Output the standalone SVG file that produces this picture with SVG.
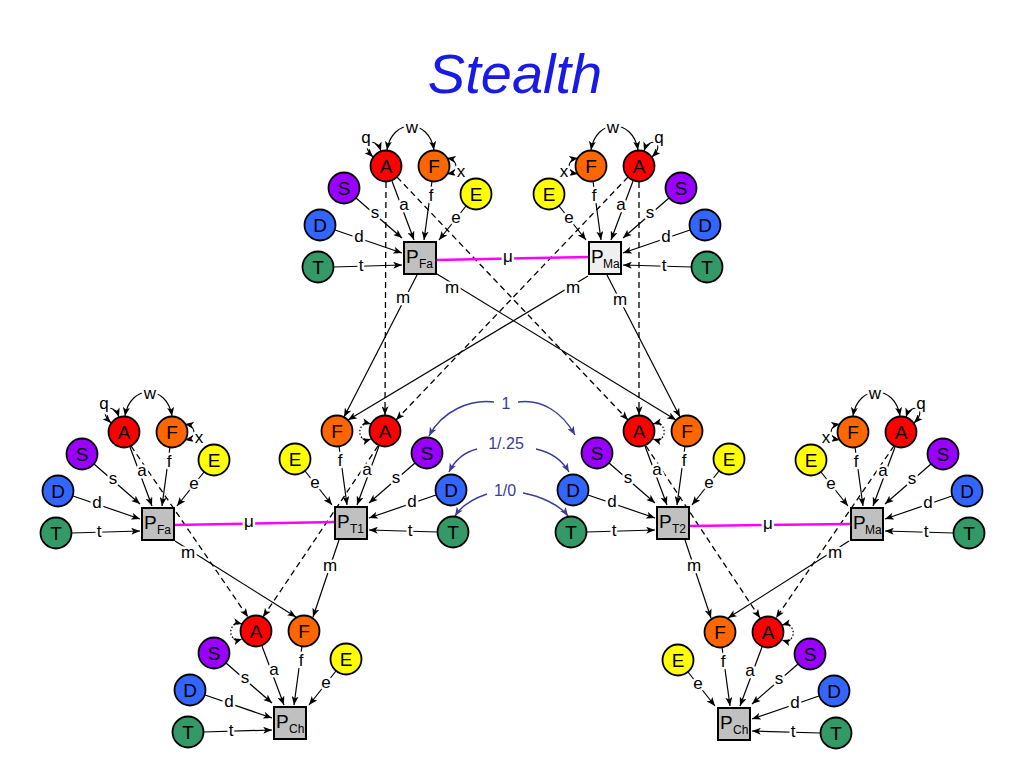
<svg xmlns="http://www.w3.org/2000/svg" width="1024" height="768" viewBox="0 0 1024 768">
<style>
.ed{stroke:#000;stroke-width:1.2;fill:none;marker-end:url(#ah)}
.da{stroke:#000;stroke-width:1.3;fill:none;stroke-dasharray:6 4;marker-end:url(#ah)}
.lp{stroke:#000;stroke-width:1.2;fill:none;marker-start:url(#ah);marker-end:url(#ah)}
.dl{stroke:#000;stroke-width:1.3;fill:none;stroke-dasharray:1.5 2;marker-start:url(#ah);marker-end:url(#ah)}
.mu{stroke:#ff00ff;stroke-width:2.5;fill:none}
.bl{stroke:#3b3b9e;stroke-width:1.4;fill:none;marker-end:url(#ahb)}
.lb{font-family:"Liberation Sans",Arial,sans-serif;font-size:17px;text-anchor:middle;fill:#000;paint-order:stroke;stroke:#fff;stroke-width:5px;stroke-linejoin:round}
.lbb{font-family:"Liberation Sans",Arial,sans-serif;font-size:16px;text-anchor:middle;fill:#3b3b9e;paint-order:stroke;stroke:#fff;stroke-width:5px;stroke-linejoin:round}
.nd{stroke:#000;stroke-width:1.8}
.nt{font-family:"Liberation Sans",Arial,sans-serif;font-size:19px;text-anchor:middle;fill:#000}
.box{fill:#c0c0c0;stroke:#000;stroke-width:2}
.boxl{fill:#efefef;stroke:#000;stroke-width:2}
.pt{font-family:"Liberation Sans",Arial,sans-serif;font-size:19px;fill:#000}
.ps{font-family:"Liberation Sans",Arial,sans-serif;font-size:12px;fill:#000}
.cA{fill:#ff0000}.cF{fill:#ff6600}.cE{fill:#ffff00}.cS{fill:#9900ff}.cD{fill:#3366ff}.cT{fill:#339966}
</style>
<defs>
<marker id="ah" viewBox="0 0 10 8" refX="10" refY="4" markerWidth="9" markerHeight="7" markerUnits="userSpaceOnUse" orient="auto-start-reverse"><path d="M0,0 L10,4 L0,8 L2.5,4 z" fill="#000"/></marker>
<marker id="ahb" viewBox="0 0 10 8" refX="10" refY="4" markerWidth="9" markerHeight="7" markerUnits="userSpaceOnUse" orient="auto-start-reverse"><path d="M0,0 L10,4 L0,8 L2.5,4 z" fill="#3b3b9e"/></marker>
</defs>
<rect width="1024" height="768" fill="#fff"/>
<text x="515" y="93" font-family="'Liberation Sans',Arial,sans-serif" font-size="56" font-style="italic" fill="#1a1ae6" text-anchor="middle">Stealth</text>

<g id="connectors">
  <!-- inter-cluster lines -->
  <line class="da" x1="386" y1="182" x2="385" y2="415"/>
  <line class="da" x1="639" y1="182" x2="639" y2="415"/>
  <line class="da" x1="397" y1="177" x2="628" y2="420"/>
  <line class="da" x1="628" y1="177" x2="396" y2="420"/>
  <line class="ed" x1="417" y1="275" x2="344" y2="417"/>
  <line class="ed" x1="437" y1="274" x2="676" y2="420"/>
  <line class="ed" x1="588" y1="276" x2="348" y2="420"/>
  <line class="ed" x1="607" y1="275" x2="680" y2="417"/>
  <line class="ed" x1="175" y1="541" x2="296" y2="617"/>
  <line class="ed" x1="339" y1="540" x2="313" y2="617"/>
  <line class="da" x1="131" y1="446" x2="248" y2="617"/>
  <line class="da" x1="378" y1="446" x2="263" y2="617"/>
  <line class="ed" x1="685" y1="540" x2="711" y2="618"/>
  <line class="ed" x1="849" y1="541" x2="728" y2="618"/>
  <line class="da" x1="646" y1="446" x2="760" y2="618"/>
  <line class="da" x1="894" y1="446" x2="776" y2="618"/>
  <text class="lb" x="403" y="303">m</text>
  <text class="lb" x="452" y="293">m</text>
  <text class="lb" x="573" y="293">m</text>
  <text class="lb" x="620" y="305">m</text>
  <text class="lb" x="188" y="558">m</text>
  <text class="lb" x="330" y="571">m</text>
  <text class="lb" x="694" y="571">m</text>
  <text class="lb" x="835" y="558">m</text>
  <!-- mu links -->
  <line class="mu" x1="436" y1="260" x2="589" y2="257"/>
  <text class="lb" x="508" y="262">μ</text>
  <line class="mu" x1="174" y1="525" x2="335" y2="522"/>
  <text class="lb" x="249" y="527">μ</text>
  <line class="mu" x1="689" y1="526" x2="851" y2="524"/>
  <text class="lb" x="768" y="529">μ</text>
  <!-- blue twin arcs -->
  <path class="bl" d="M494,402 C470,399 442,411 429,436"/>
  <path class="bl" d="M518,402 C542,399 562,412 575,435"/>
  <text class="lbb" x="506" y="409">1</text>
  <path class="bl" d="M477,449 C465,452 455,460 449,472"/>
  <path class="bl" d="M536,449 C550,452 562,460 569,472"/>
  <text class="lbb" x="506" y="449">1/.25</text>
  <path class="bl" d="M487,494 C475,498 462,505 455,516"/>
  <path class="bl" d="M523,493 C540,496 560,505 568,516"/>
  <text class="lbb" x="505" y="496">1/0</text>
  <!-- dotted self loops -->
  <path class="dl" d="M371,424 C356,420 356,444 371,439"/>
  <path class="dl" d="M653,424 C668,420 668,444 653,439"/>
  <path class="dl" d="M242,624 C227,620 227,644 242,639"/>
  <path class="dl" d="M782,625 C797,621 797,645 782,640"/>

  <!-- cluster: Fa top (L) -->
  <g id="c-fa-top" transform="translate(404,242)">
    <line class="ed" x1="-48" y1="-44" x2="-2" y2="-4"/>
    <line class="ed" x1="-12" y1="-61" x2="10" y2="-2"/>
    <line class="ed" x1="28" y1="-61" x2="20" y2="-2"/>
    <line class="ed" x1="62" y1="-36" x2="35" y2="-2"/>
    <line class="ed" x1="-69" y1="-12" x2="-2" y2="11"/>
    <line class="ed" x1="-70.5" y1="25" x2="-2" y2="23"/>
    <path class="lp" d="M-23,-91 C-28,-106 -46,-100 -31,-85"/>
    <path class="lp" d="M-17,-92 C-12,-124 25,-124 30,-92"/>
    <path class="lp" d="M43,-84 C55,-82 55,-70 43,-68"/>
    <text class="lb" x="-29" y="-24">s</text><text class="lb" x="0" y="-32">a</text><text class="lb" x="27" y="-41">f</text>
    <text class="lb" x="52" y="-19">e</text><text class="lb" x="-45" y="0">d</text><text class="lb" x="-43" y="29">t</text>
    <text class="lb" x="-38" y="-99">q</text><text class="lb" x="8" y="-109">w</text><text class="lb" x="57" y="-65">x</text>
  </g>
  <!-- cluster: Ma top (R) -->
  <g id="c-ma-top" transform="translate(589,242)">
    <line class="ed" x1="80" y1="-44" x2="34" y2="-4"/>
    <line class="ed" x1="44" y1="-61" x2="22" y2="-2"/>
    <line class="ed" x1="4" y1="-61" x2="12" y2="-2"/>
    <line class="ed" x1="-30" y1="-36" x2="-3" y2="-2"/>
    <line class="ed" x1="101" y1="-12" x2="34" y2="11"/>
    <line class="ed" x1="102.5" y1="25" x2="34" y2="23"/>
    <path class="lp" d="M55,-91 C60,-106 78,-100 63,-85"/>
    <path class="lp" d="M49,-92 C44,-124 7,-124 2,-92"/>
    <path class="lp" d="M-11,-84 C-23,-82 -23,-70 -11,-68"/>
    <text class="lb" x="61" y="-24">s</text><text class="lb" x="32" y="-32">a</text><text class="lb" x="5" y="-41">f</text>
    <text class="lb" x="-20" y="-19">e</text><text class="lb" x="77" y="0">d</text><text class="lb" x="75" y="29">t</text>
    <text class="lb" x="70" y="-99">q</text><text class="lb" x="24" y="-109">w</text><text class="lb" x="-25" y="-65">x</text>
  </g>
  <!-- cluster: Fa bottom-left (L) -->
  <g id="c-fa-bl" transform="translate(142,508)">
    <line class="ed" x1="-48" y1="-44" x2="-2" y2="-4"/>
    <line class="ed" x1="-12" y1="-61" x2="10" y2="-2"/>
    <line class="ed" x1="28" y1="-61" x2="20" y2="-2"/>
    <line class="ed" x1="62" y1="-36" x2="35" y2="-2"/>
    <line class="ed" x1="-69" y1="-12" x2="-2" y2="11"/>
    <line class="ed" x1="-70.5" y1="25" x2="-2" y2="23"/>
    <path class="lp" d="M-23,-91 C-28,-106 -46,-100 -31,-85"/>
    <path class="lp" d="M-17,-92 C-12,-124 25,-124 30,-92"/>
    <path class="lp" d="M43,-84 C55,-82 55,-70 43,-68"/>
    <text class="lb" x="-29" y="-24">s</text><text class="lb" x="0" y="-32">a</text><text class="lb" x="27" y="-41">f</text>
    <text class="lb" x="52" y="-19">e</text><text class="lb" x="-45" y="0">d</text><text class="lb" x="-43" y="29">t</text>
    <text class="lb" x="-38" y="-99">q</text><text class="lb" x="8" y="-109">w</text><text class="lb" x="57" y="-65">x</text>
  </g>
  <!-- cluster: T1 (R) -->
  <g id="c-t1" transform="translate(335,507)">
    <line class="ed" x1="80" y1="-44" x2="34" y2="-4"/>
    <line class="ed" x1="44" y1="-61" x2="22" y2="-2"/>
    <line class="ed" x1="4" y1="-61" x2="12" y2="-2"/>
    <line class="ed" x1="-30" y1="-36" x2="-3" y2="-2"/>
    <line class="ed" x1="101" y1="-12" x2="34" y2="11"/>
    <line class="ed" x1="102.5" y1="25" x2="34" y2="23"/>
    <text class="lb" x="61" y="-24">s</text><text class="lb" x="32" y="-32">a</text><text class="lb" x="5" y="-41">f</text>
    <text class="lb" x="-20" y="-19">e</text><text class="lb" x="77" y="0">d</text><text class="lb" x="75" y="29">t</text>
  </g>
  <!-- cluster: T2 (L) -->
  <g id="c-t2" transform="translate(657,507)">
    <line class="ed" x1="-48" y1="-44" x2="-2" y2="-4"/>
    <line class="ed" x1="-12" y1="-61" x2="10" y2="-2"/>
    <line class="ed" x1="28" y1="-61" x2="20" y2="-2"/>
    <line class="ed" x1="62" y1="-36" x2="35" y2="-2"/>
    <line class="ed" x1="-69" y1="-12" x2="-2" y2="11"/>
    <line class="ed" x1="-70.5" y1="25" x2="-2" y2="23"/>
    <text class="lb" x="-29" y="-24">s</text><text class="lb" x="0" y="-32">a</text><text class="lb" x="27" y="-41">f</text>
    <text class="lb" x="52" y="-19">e</text><text class="lb" x="-45" y="0">d</text><text class="lb" x="-43" y="29">t</text>
  </g>
  <!-- cluster: Ma bottom-right (R) -->
  <g id="c-ma-br" transform="translate(851,508)">
    <line class="ed" x1="80" y1="-44" x2="34" y2="-4"/>
    <line class="ed" x1="44" y1="-61" x2="22" y2="-2"/>
    <line class="ed" x1="4" y1="-61" x2="12" y2="-2"/>
    <line class="ed" x1="-30" y1="-36" x2="-3" y2="-2"/>
    <line class="ed" x1="101" y1="-12" x2="34" y2="11"/>
    <line class="ed" x1="102.5" y1="25" x2="34" y2="23"/>
    <path class="lp" d="M55,-91 C60,-106 78,-100 63,-85"/>
    <path class="lp" d="M49,-92 C44,-124 7,-124 2,-92"/>
    <path class="lp" d="M-11,-84 C-23,-82 -23,-70 -11,-68"/>
    <text class="lb" x="61" y="-24">s</text><text class="lb" x="32" y="-32">a</text><text class="lb" x="5" y="-41">f</text>
    <text class="lb" x="-20" y="-19">e</text><text class="lb" x="77" y="0">d</text><text class="lb" x="75" y="29">t</text>
    <text class="lb" x="70" y="-99">q</text><text class="lb" x="24" y="-109">w</text><text class="lb" x="-25" y="-65">x</text>
  </g>
  <!-- cluster: Ch left (L) -->
  <g id="c-ch-l" transform="translate(274,707)">
    <line class="ed" x1="-48" y1="-44" x2="-2" y2="-4"/>
    <line class="ed" x1="-12" y1="-61" x2="10" y2="-2"/>
    <line class="ed" x1="28" y1="-61" x2="20" y2="-2"/>
    <line class="ed" x1="62" y1="-36" x2="35" y2="-2"/>
    <line class="ed" x1="-69" y1="-12" x2="-2" y2="11"/>
    <line class="ed" x1="-70.5" y1="25" x2="-2" y2="23"/>
    <text class="lb" x="-29" y="-24">s</text><text class="lb" x="0" y="-32">a</text><text class="lb" x="27" y="-41">f</text>
    <text class="lb" x="52" y="-19">e</text><text class="lb" x="-45" y="0">d</text><text class="lb" x="-43" y="29">t</text>
  </g>
  <!-- cluster: Ch right (R) -->
  <g id="c-ch-r" transform="translate(718,708)">
    <line class="ed" x1="80" y1="-44" x2="34" y2="-4"/>
    <line class="ed" x1="44" y1="-61" x2="22" y2="-2"/>
    <line class="ed" x1="4" y1="-61" x2="12" y2="-2"/>
    <line class="ed" x1="-30" y1="-36" x2="-3" y2="-2"/>
    <line class="ed" x1="101" y1="-12" x2="34" y2="11"/>
    <line class="ed" x1="102.5" y1="25" x2="34" y2="23"/>
    <text class="lb" x="61" y="-24">s</text><text class="lb" x="32" y="-32">a</text><text class="lb" x="5" y="-41">f</text>
    <text class="lb" x="-20" y="-19">e</text><text class="lb" x="77" y="0">d</text><text class="lb" x="75" y="29">t</text>
  </g>
</g>

<g id="nodes">
  <!-- Fa top -->
  <g id="fa1-A" transform="translate(386,166)"><circle class="nd cA" r="15.5"/><text class="nt" y="7">A</text></g>
  <g id="fa1-F" transform="translate(434,166)"><circle class="nd cF" r="15.5"/><text class="nt" y="7">F</text></g>
  <g id="fa1-E" transform="translate(476,194)"><circle class="nd cE" r="15.5"/><text class="nt" y="7">E</text></g>
  <g id="fa1-S" transform="translate(344,188)"><circle class="nd cS" r="15.5"/><text class="nt" y="7">S</text></g>
  <g id="fa1-D" transform="translate(320,225)"><circle class="nd cD" r="15.5"/><text class="nt" y="7">D</text></g>
  <g id="fa1-T" transform="translate(318,267)"><circle class="nd cT" r="15.5"/><text class="nt" y="7">T</text></g>
  <g id="fa1-P"><rect class="box" x="404" y="242" width="32" height="32"/><text class="pt" x="406" y="263">P</text><text class="ps" x="419" y="268">Fa</text></g>
  <!-- Ma top -->
  <g id="ma1-A" transform="translate(639,166)"><circle class="nd cA" r="15.5"/><text class="nt" y="7">A</text></g>
  <g id="ma1-F" transform="translate(591,166)"><circle class="nd cF" r="15.5"/><text class="nt" y="7">F</text></g>
  <g id="ma1-E" transform="translate(549,194)"><circle class="nd cE" r="15.5"/><text class="nt" y="7">E</text></g>
  <g id="ma1-S" transform="translate(681,188)"><circle class="nd cS" r="15.5"/><text class="nt" y="7">S</text></g>
  <g id="ma1-D" transform="translate(705,225)"><circle class="nd cD" r="15.5"/><text class="nt" y="7">D</text></g>
  <g id="ma1-T" transform="translate(707,267)"><circle class="nd cT" r="15.5"/><text class="nt" y="7">T</text></g>
  <g id="ma1-P"><rect class="boxl" x="589" y="242" width="32" height="32"/><text class="pt" x="591" y="263">P</text><text class="ps" x="603" y="268">Ma</text></g>
  <!-- Fa bottom-left -->
  <g id="fa2-A" transform="translate(124,432)"><circle class="nd cA" r="15.5"/><text class="nt" y="7">A</text></g>
  <g id="fa2-F" transform="translate(172,432)"><circle class="nd cF" r="15.5"/><text class="nt" y="7">F</text></g>
  <g id="fa2-E" transform="translate(214,460)"><circle class="nd cE" r="15.5"/><text class="nt" y="7">E</text></g>
  <g id="fa2-S" transform="translate(82,454)"><circle class="nd cS" r="15.5"/><text class="nt" y="7">S</text></g>
  <g id="fa2-D" transform="translate(58,491)"><circle class="nd cD" r="15.5"/><text class="nt" y="7">D</text></g>
  <g id="fa2-T" transform="translate(56,533)"><circle class="nd cT" r="15.5"/><text class="nt" y="7">T</text></g>
  <g id="fa2-P"><rect class="box" x="142" y="508" width="32" height="32"/><text class="pt" x="144" y="529">P</text><text class="ps" x="157" y="534">Fa</text></g>
  <!-- T1 -->
  <g id="t1-A" transform="translate(385,431)"><circle class="nd cA" r="15.5"/><text class="nt" y="7">A</text></g>
  <g id="t1-F" transform="translate(337,431)"><circle class="nd cF" r="15.5"/><text class="nt" y="7">F</text></g>
  <g id="t1-E" transform="translate(295,459)"><circle class="nd cE" r="15.5"/><text class="nt" y="7">E</text></g>
  <g id="t1-S" transform="translate(427,453)"><circle class="nd cS" r="15.5"/><text class="nt" y="7">S</text></g>
  <g id="t1-D" transform="translate(451,490)"><circle class="nd cD" r="15.5"/><text class="nt" y="7">D</text></g>
  <g id="t1-T" transform="translate(453,532)"><circle class="nd cT" r="15.5"/><text class="nt" y="7">T</text></g>
  <g id="t1-P"><rect class="box" x="335" y="507" width="32" height="32"/><text class="pt" x="337" y="528">P</text><text class="ps" x="350" y="533">T1</text></g>
  <!-- T2 -->
  <g id="t2-A" transform="translate(639,431)"><circle class="nd cA" r="15.5"/><text class="nt" y="7">A</text></g>
  <g id="t2-F" transform="translate(687,431)"><circle class="nd cF" r="15.5"/><text class="nt" y="7">F</text></g>
  <g id="t2-E" transform="translate(729,459)"><circle class="nd cE" r="15.5"/><text class="nt" y="7">E</text></g>
  <g id="t2-S" transform="translate(597,453)"><circle class="nd cS" r="15.5"/><text class="nt" y="7">S</text></g>
  <g id="t2-D" transform="translate(573,490)"><circle class="nd cD" r="15.5"/><text class="nt" y="7">D</text></g>
  <g id="t2-T" transform="translate(571,532)"><circle class="nd cT" r="15.5"/><text class="nt" y="7">T</text></g>
  <g id="t2-P"><rect class="box" x="657" y="507" width="32" height="32"/><text class="pt" x="659" y="528">P</text><text class="ps" x="672" y="533">T2</text></g>
  <!-- Ma bottom-right -->
  <g id="ma2-A" transform="translate(901,432)"><circle class="nd cA" r="15.5"/><text class="nt" y="7">A</text></g>
  <g id="ma2-F" transform="translate(853,432)"><circle class="nd cF" r="15.5"/><text class="nt" y="7">F</text></g>
  <g id="ma2-E" transform="translate(811,460)"><circle class="nd cE" r="15.5"/><text class="nt" y="7">E</text></g>
  <g id="ma2-S" transform="translate(943,454)"><circle class="nd cS" r="15.5"/><text class="nt" y="7">S</text></g>
  <g id="ma2-D" transform="translate(967,491)"><circle class="nd cD" r="15.5"/><text class="nt" y="7">D</text></g>
  <g id="ma2-T" transform="translate(969,533)"><circle class="nd cT" r="15.5"/><text class="nt" y="7">T</text></g>
  <g id="ma2-P"><rect class="box" x="851" y="508" width="32" height="32"/><text class="pt" x="853" y="529">P</text><text class="ps" x="865" y="534">Ma</text></g>
  <!-- Ch left -->
  <g id="ch1-A" transform="translate(256,631)"><circle class="nd cA" r="15.5"/><text class="nt" y="7">A</text></g>
  <g id="ch1-F" transform="translate(304,631)"><circle class="nd cF" r="15.5"/><text class="nt" y="7">F</text></g>
  <g id="ch1-E" transform="translate(346,659)"><circle class="nd cE" r="15.5"/><text class="nt" y="7">E</text></g>
  <g id="ch1-S" transform="translate(214,653)"><circle class="nd cS" r="15.5"/><text class="nt" y="7">S</text></g>
  <g id="ch1-D" transform="translate(190,690)"><circle class="nd cD" r="15.5"/><text class="nt" y="7">D</text></g>
  <g id="ch1-T" transform="translate(188,732)"><circle class="nd cT" r="15.5"/><text class="nt" y="7">T</text></g>
  <g id="ch1-P"><rect class="box" x="274" y="707" width="32" height="32"/><text class="pt" x="276" y="728">P</text><text class="ps" x="289" y="733">Ch</text></g>
  <!-- Ch right -->
  <g id="ch2-A" transform="translate(768,632)"><circle class="nd cA" r="15.5"/><text class="nt" y="7">A</text></g>
  <g id="ch2-F" transform="translate(720,632)"><circle class="nd cF" r="15.5"/><text class="nt" y="7">F</text></g>
  <g id="ch2-E" transform="translate(678,660)"><circle class="nd cE" r="15.5"/><text class="nt" y="7">E</text></g>
  <g id="ch2-S" transform="translate(810,654)"><circle class="nd cS" r="15.5"/><text class="nt" y="7">S</text></g>
  <g id="ch2-D" transform="translate(834,691)"><circle class="nd cD" r="15.5"/><text class="nt" y="7">D</text></g>
  <g id="ch2-T" transform="translate(836,733)"><circle class="nd cT" r="15.5"/><text class="nt" y="7">T</text></g>
  <g id="ch2-P"><rect class="box" x="718" y="708" width="32" height="32"/><text class="pt" x="720" y="729">P</text><text class="ps" x="733" y="734">Ch</text></g>
</g>
</svg>
